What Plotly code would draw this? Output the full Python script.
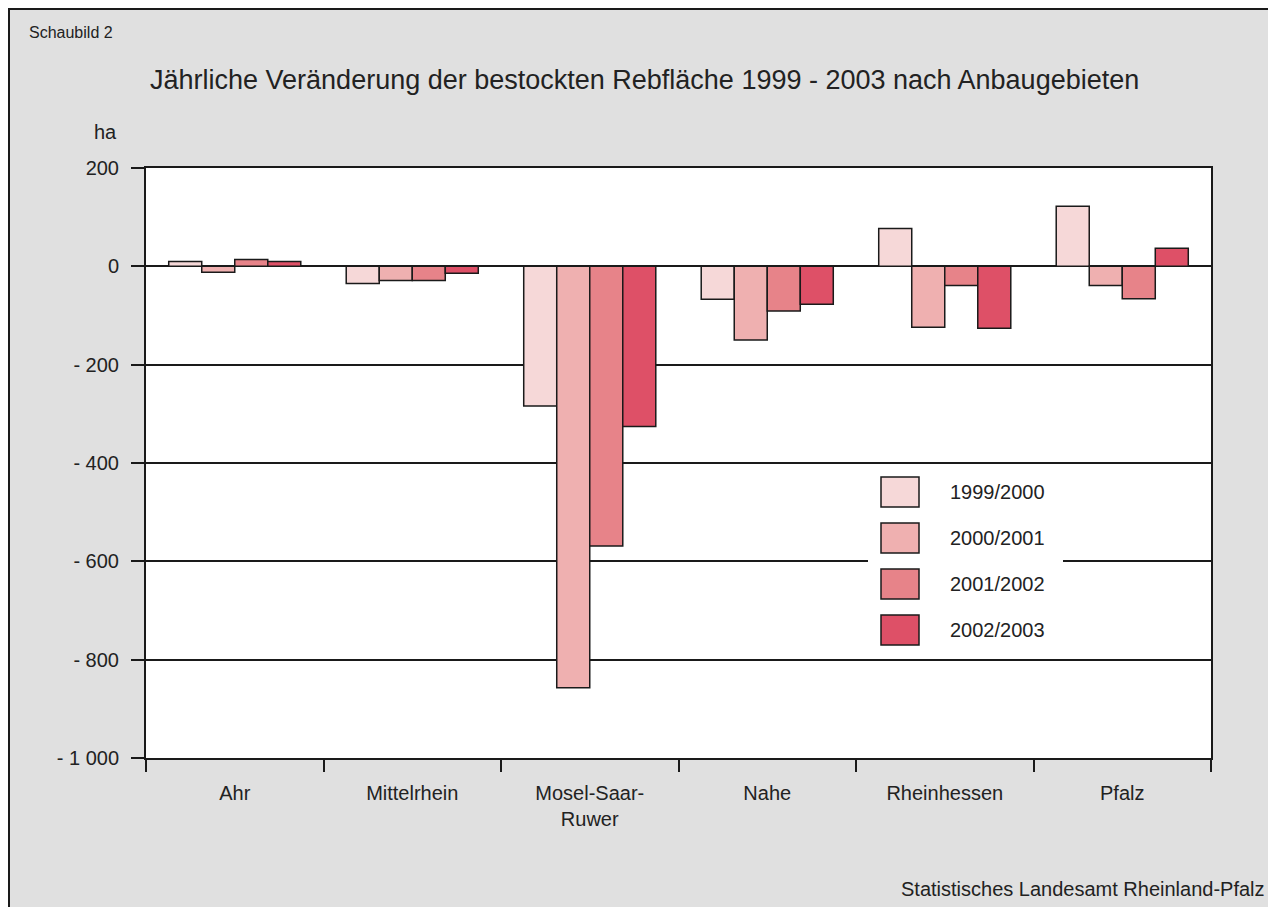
import plotly.graph_objects as go

categories = ["Ahr", "Mittelrhein", "Mosel-Saar-<br>Ruwer", "Nahe", "Rheinhessen", "Pfalz"]
series_names = ["1999/2000", "2000/2001", "2001/2002", "2002/2003"]
v_1999_2000 = [10, -35, -284, -67, 77, 122]
v_2000_2001 = [-12, -29, -857, -150, -124, -39]
v_2001_2002 = [14, -29, -569, -91, -39, -66]
v_2002_2003 = [10, -14, -326, -77, -126, 37]
series_values = [v_1999_2000, v_2000_2001, v_2001_2002, v_2002_2003]
colors = ["#f6d8d8", "#efb0b0", "#e78389", "#de5067"]
y_tickvals = [200, 0, -200, -400, -600, -800, -1000]
y_ticktext = ["200", "0", "- 200", "- 400", "- 600", "- 800", "- 1 000"]

FONT = "Liberation Sans, Arial, Helvetica, sans-serif"
OFF = 8  # page body margin
SW, SH = 1276, 907  # screen size
W, H = SW - OFF, SH - OFF
# plot area in screen pixels: x 146..1211, y 168..758
L, R, T, B = 146 - OFF, SW - 1211, 168 - OFF, SH - 758
PW, PH = W - L - R, H - T - B


def px(q):  # screen x -> paper
    return (q - OFF - L) / PW


def py(p):  # screen y -> paper
    return (H - B - (p - OFF)) / PH


fig = go.Figure()
for name, vals, col in zip(series_names, series_values, colors):
    fig.add_trace(go.Bar(
        x=categories, y=vals, name=name,
        marker=dict(color=col, line=dict(color="#1a1a1a", width=1.5)),
        showlegend=False,
    ))

shapes = []
# outer frame lines (top and left)
shapes.append(dict(type="line", xref="paper", yref="paper", x0=px(9), x1=px(9), y0=py(SH), y1=py(8),
                   line=dict(color="#1a1a1a", width=2), layer="above"))
shapes.append(dict(type="line", xref="paper", yref="paper", x0=px(8), x1=px(SW), y0=py(9), y1=py(9),
                   line=dict(color="#1a1a1a", width=2), layer="above"))
# legend box
shapes.append(dict(type="rect", xref="paper", yref="paper", x0=px(868), x1=px(1063), y0=py(656), y1=py(464),
                   fillcolor="white", line=dict(width=0), layer="above"))
sw_tops = [477, 523, 569, 615]
text_y = [492, 538, 584, 630]
annotations = []
for i, (name, col) in enumerate(zip(series_names, colors)):
    shapes.append(dict(type="rect", xref="paper", yref="paper", x0=px(881), x1=px(919),
                       y0=py(sw_tops[i] + 30), y1=py(sw_tops[i]),
                       fillcolor=col, line=dict(color="#1a1a1a", width=1.5), layer="above"))
    annotations.append(dict(text=name, xref="paper", yref="paper", x=px(948), y=py(text_y[i]),
                            xanchor="left", yanchor="middle", showarrow=False,
                            font=dict(size=20, color="#222222", family=FONT)))

annotations += [
    dict(text="Jährliche Veränderung der bestockten Rebfläche 1999 - 2003 nach Anbaugebieten",
         xref="paper", yref="paper", x=px(148), y=py(80), xanchor="left", yanchor="middle",
         showarrow=False, font=dict(size=27, color="#222222", family=FONT)),
    dict(text="ha", xref="paper", yref="paper", x=px(119), y=py(132), xanchor="right", yanchor="middle",
         showarrow=False, font=dict(size=20, color="#222222", family=FONT)),
    dict(text="Schaubild 2", xref="paper", yref="paper", x=px(27), y=py(33), xanchor="left", yanchor="middle",
         showarrow=False, font=dict(size=16, color="#222222", family=FONT)),
    dict(text="Statistisches Landesamt Rheinland-Pfalz", xref="paper", yref="paper", x=px(1267), y=py(889),
         xanchor="right", yanchor="middle", showarrow=False, font=dict(size=20, color="#222222", family=FONT)),
]

fig.update_layout(
    width=W, height=H,
    margin=dict(l=L, r=R, t=T, b=B, pad=0),
    paper_bgcolor="#e0e0e0", plot_bgcolor="white",
    barmode="group", bargap=0.256, bargroupgap=0,
    shapes=shapes, annotations=annotations,
    font=dict(family=FONT, color="#222222"),
    showlegend=False,
)
fig.update_xaxes(
    type="category", tickson="boundaries", ticks="outside", ticklen=12, tickwidth=2, tickcolor="#1a1a1a",
    showgrid=False, showline=True, linecolor="#1a1a1a", linewidth=2, mirror=True,
    tickfont=dict(size=20, color="#222222", family=FONT), ticklabelstandoff=16,
    range=[-0.5, 5.5], fixedrange=True,
)
fig.update_yaxes(
    range=[-1000, 200], tickvals=y_tickvals, ticktext=y_ticktext,
    ticks="outside", ticklen=13, tickwidth=2, tickcolor="#1a1a1a",
    showgrid=True, gridcolor="#1a1a1a", gridwidth=2,
    zeroline=True, zerolinecolor="#1a1a1a", zerolinewidth=2,
    showline=True, linecolor="#1a1a1a", linewidth=2, mirror=True,
    tickfont=dict(size=20, color="#222222", family=FONT), ticklabelstandoff=8,
)

fig.write_html("out.html")
